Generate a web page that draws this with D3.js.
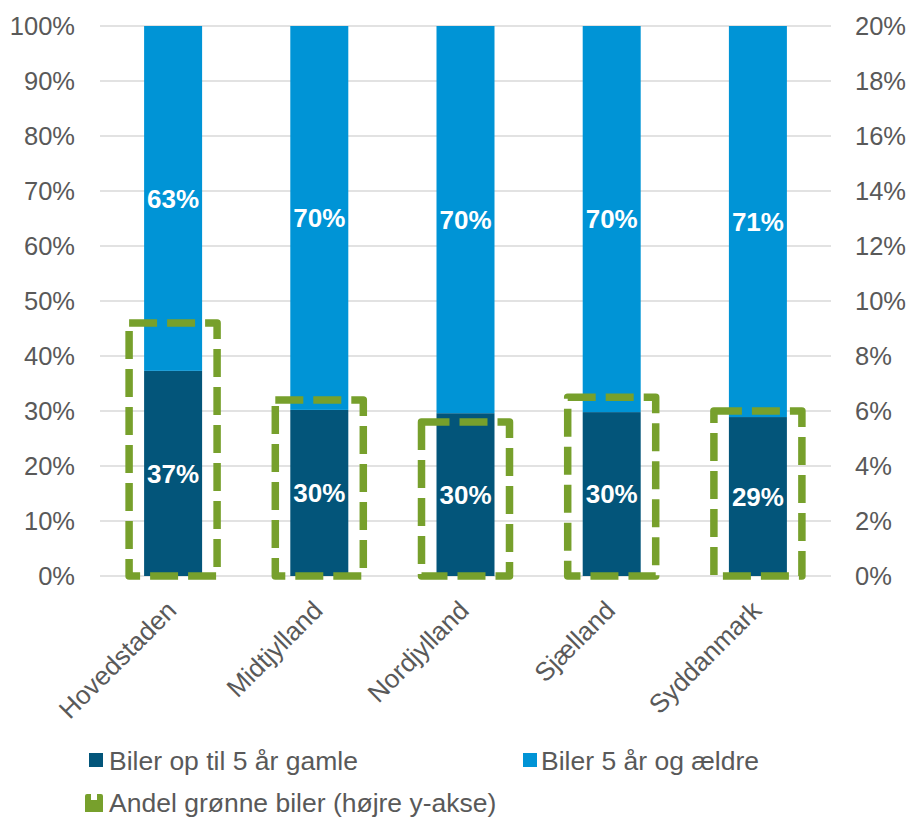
<!DOCTYPE html>
<html>
<head>
  <meta charset="utf-8">
  <script src="https://cdnjs.cloudflare.com/ajax/libs/d3/7.8.5/d3.min.js"></script>
  <style>
    body { margin: 0; background: #fff; }
    text { font-family: "Liberation Sans", Arial, sans-serif; }
    .tick text { fill: #595959; font-size: 25.5px; }
    .legend text { fill: #595959; font-size: 26.5px; }
  </style>
</head>
<body>
<script>
  // data
  var regions = ["Hovedstaden", "Midtjylland", "Nordjylland", "Sjælland", "Syddanmark"];
  var young = [0.373, 0.302, 0.296, 0.298, 0.289];     // Biler op til 5 år gamle
  var old = [0.627, 0.698, 0.704, 0.702, 0.711];       // Biler 5 år og ældre
  var youngLabels = ["37%", "30%", "30%", "30%", "29%"];
  var oldLabels = ["63%", "70%", "70%", "70%", "71%"];
  var green = [0.092, 0.064, 0.056, 0.065, 0.060];     // Andel grønne biler (højre akse)
  var leftTicks = [0, 0.1, 0.2, 0.3, 0.4, 0.5, 0.6, 0.7, 0.8, 0.9, 1];
  var rightTicks = [0, 0.02, 0.04, 0.06, 0.08, 0.1, 0.12, 0.14, 0.16, 0.18, 0.2];

  var colDark = "#03557a", colLight = "#0094d6", colGreen = "#77a02c";

  var W = 909, H = 819;
  var pLeft = 100, pRight = 831, pTop = 26, pBottom = 576;

  var svg = d3.select("body").append("svg")
    .attr("width", W).attr("height", H);

  var x = d3.scaleBand().domain(regions).range([pLeft, pRight]);
  var y = d3.scaleLinear().domain([0, 1]).range([pBottom, pTop]);
  var y2 = d3.scaleLinear().domain([0, 0.2]).range([pBottom, pTop]);
  var fmt = d3.format(".0%");
  var cx = function (i) { return x(regions[i]) + x.bandwidth() / 2; };

  // gridlines
  svg.append("g").selectAll("line").data(leftTicks).enter().append("line")
    .attr("x1", pLeft).attr("x2", pRight)
    .attr("y1", function (d) { return y(d); }).attr("y2", function (d) { return y(d); })
    .attr("stroke", "#d9d9d9").attr("stroke-width", 1.5);

  // axes
  var ax = svg.append("g").attr("transform", "translate(" + (pLeft - 25) + ",0)")
    .call(d3.axisLeft(y).tickValues(leftTicks).tickFormat(fmt).tickSize(0));
  ax.select(".domain").remove();
  ax.selectAll("text").attr("x", 0).attr("dy", "0.35em");

  var ax2 = svg.append("g").attr("transform", "translate(" + (pRight + 24) + ",0)")
    .call(d3.axisRight(y2).tickValues(rightTicks).tickFormat(fmt).tickSize(0));
  ax2.select(".domain").remove();
  ax2.selectAll("text").attr("x", 0).attr("dy", "0.35em");

  var ax3 = svg.append("g").attr("transform", "translate(0," + pBottom + ")")
    .call(d3.axisBottom(x).tickSize(0));
  ax3.select(".domain").remove();
  ax3.selectAll("text")
    .style("font-size", "26px")
    .attr("text-anchor", "end")
    .attr("x", 0).attr("y", 0).attr("dy", 0)
    .attr("transform", "translate(5,36) rotate(-45)");

  var bw = 58;

  // stacked bars
  var bars = svg.append("g");
  bars.selectAll(".young").data(young).enter().append("rect")
    .attr("x", function (d, i) { return cx(i) - bw / 2; })
    .attr("width", bw)
    .attr("y", function (d) { return y(d); })
    .attr("height", function (d) { return y(0) - y(d); })
    .attr("fill", colDark);
  bars.selectAll(".old").data(old).enter().append("rect")
    .attr("x", function (d, i) { return cx(i) - bw / 2; })
    .attr("width", bw)
    .attr("y", function (d, i) { return y(young[i] + d); })
    .attr("height", function (d) { return y(0) - y(d); })
    .attr("fill", colLight);

  // green share: dashed outline bars on right axis
  var gw = 88;
  svg.append("g").selectAll("rect").data(green).enter().append("rect")
    .attr("x", function (d, i) { return cx(i) - gw / 2; })
    .attr("width", gw)
    .attr("y", function (d) { return y2(d); })
    .attr("height", function (d) { return y2(0) - y2(d); })
    .attr("fill", "none")
    .attr("stroke", colGreen)
    .attr("stroke-width", 7.5)
    .attr("stroke-dasharray", "28,10")
    .attr("stroke-linejoin", "round");

  // value labels
  var lab = svg.append("g").attr("fill", "#fff").attr("font-size", 26).attr("font-weight", "bold")
    .attr("text-anchor", "middle");
  lab.selectAll(".ly").data(young).enter().append("text")
    .attr("x", function (d, i) { return cx(i); })
    .attr("y", function (d) { return (y(d) + y(0)) / 2; })
    .attr("dy", "0.35em")
    .text(function (d, i) { return youngLabels[i]; });
  lab.selectAll(".lo").data(old).enter().append("text")
    .attr("x", function (d, i) { return cx(i); })
    .attr("y", function (d, i) { return (y(young[i]) + y(1)) / 2; })
    .attr("dy", "0.35em")
    .text(function (d, i) { return oldLabels[i]; });

  // legend
  var lg = svg.append("g").attr("class", "legend");
  lg.append("rect").attr("x", 89).attr("y", 753).attr("width", 14).attr("height", 14).attr("fill", colDark);
  lg.append("text").attr("x", 109).attr("y", 770).text("Biler op til 5 år gamle");
  lg.append("rect").attr("x", 523).attr("y", 753).attr("width", 14).attr("height", 14).attr("fill", colLight);
  lg.append("text").attr("x", 541).attr("y", 770).text("Biler 5 år og ældre");
  lg.append("path")
    .attr("d", "M85,796 Q85,794 87,794 L91,794 L91,800 L97,800 L97,794 L101,794 Q103,794 103,796 L103,812 L85,812 Z")
    .attr("fill", colGreen);
  lg.append("rect").attr("x", 91).attr("y", 794).attr("width", 6).attr("height", 3).attr("fill", "#fff");
  lg.append("text").attr("x", 109).attr("y", 812).text("Andel grønne biler (højre y-akse)");
</script>
</body>
</html>
